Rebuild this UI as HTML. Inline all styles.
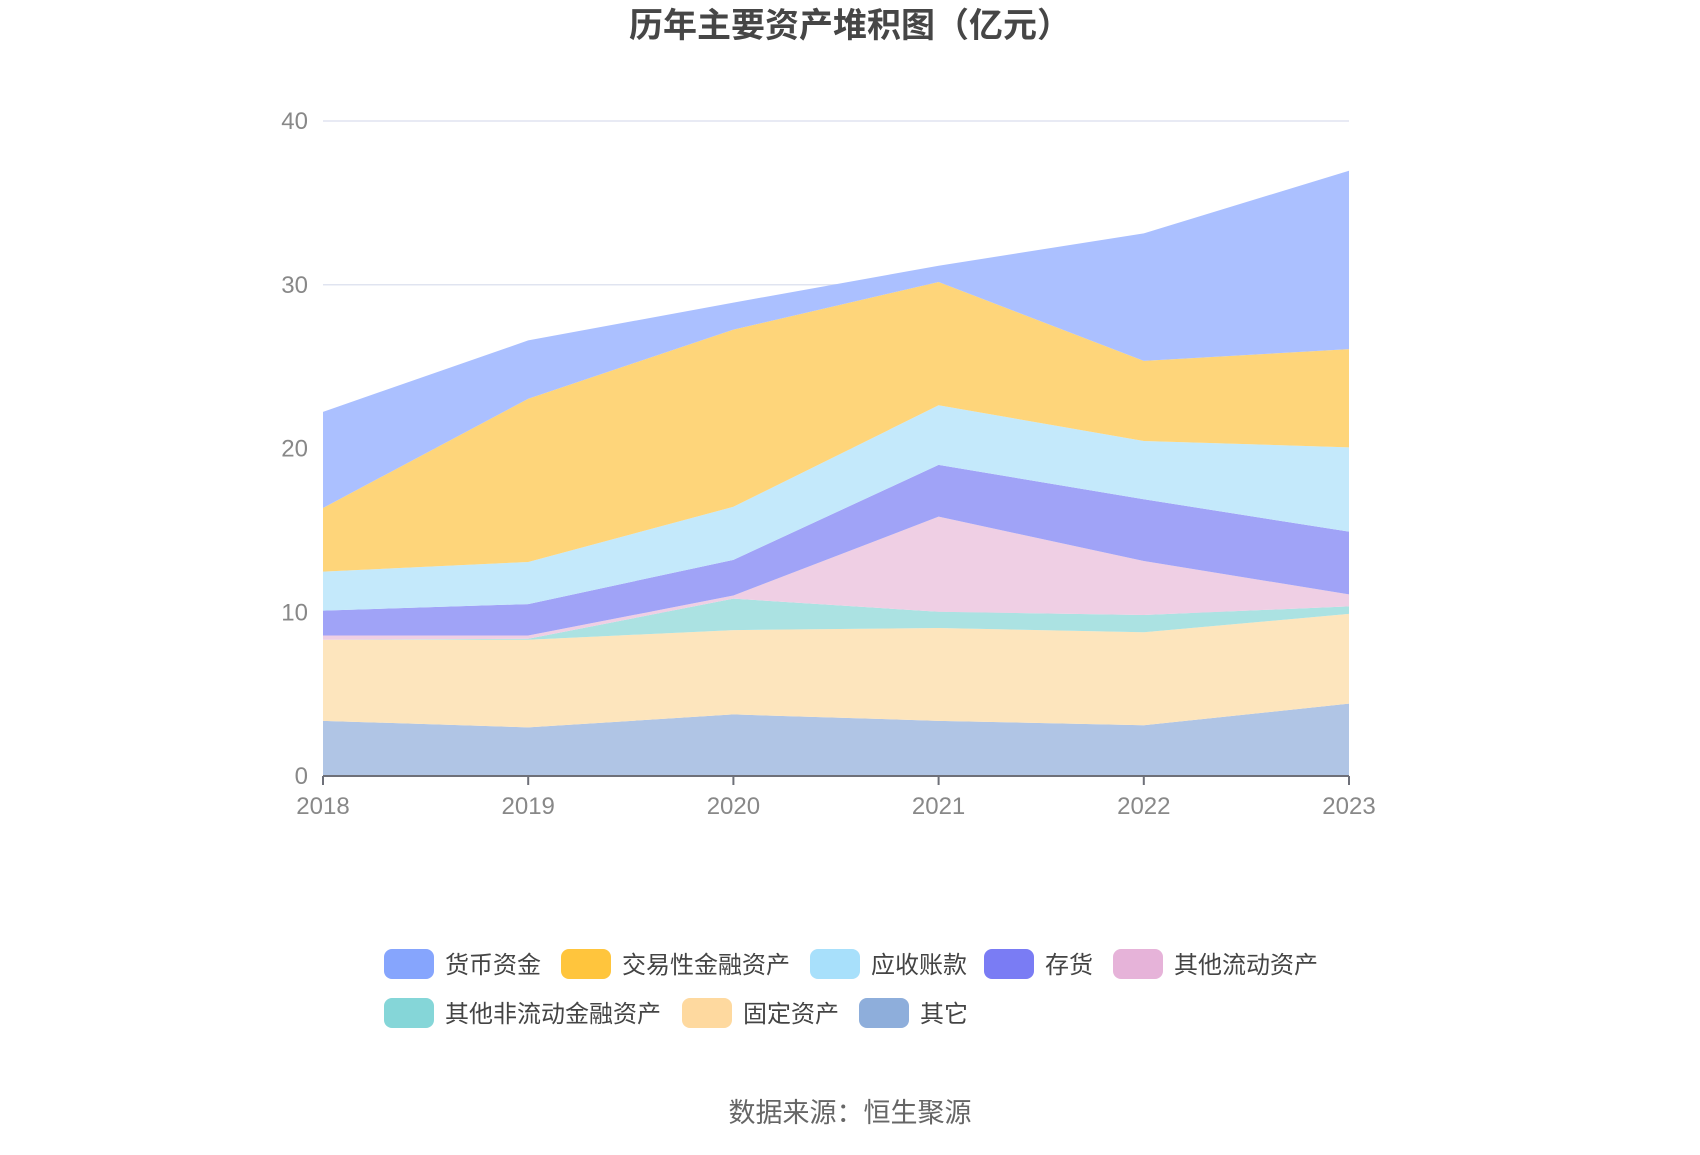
<!DOCTYPE html>
<html><head><meta charset="utf-8">
<style>
body{margin:0;background:#fff;width:1700px;height:1150px;overflow:hidden;font-family:"Liberation Sans","Noto Sans CJK SC",sans-serif;}
</style></head>
<body>
<svg id="chart" width="1700" height="1150" xmlns="http://www.w3.org/2000/svg" font-family="Liberation Sans, Noto Sans CJK SC, sans-serif">
<text x="850" y="37" text-anchor="middle" font-size="34" font-weight="bold" fill="#464646">历年主要资产堆积图（亿元）</text>
<g id="grid"></g>
<g id="areas"></g>
<g id="axes"></g>
<g id="legend"></g>
<text x="850" y="1122" text-anchor="middle" font-size="27" fill="#666">数据来源：恒生聚源</text>
</svg>
<script>
const years = ['2018','2019','2020','2021','2022','2023'];
const seriesNames = ['其它','固定资产','其他非流动金融资产','其他流动资产','存货','应收账款','交易性金融资产','货币资金'];
const sOther = [3.37, 2.97, 3.76, 3.37, 3.10, 4.42];
const sFixed = [4.95, 5.35, 5.15, 5.67, 5.68, 5.48];
const sNonCurFin = [0.00, 0.06, 1.92, 0.99, 1.05, 0.46];
const sOtherCur = [0.26, 0.20, 0.19, 5.81, 3.30, 0.73];
const sInventory = [1.52, 1.92, 2.18, 3.16, 3.77, 3.83];
const sReceivable = [2.38, 2.57, 3.24, 3.64, 3.56, 5.15];
const sTrading = [3.89, 9.97, 10.82, 7.53, 4.89, 6.00];
const sCash = [5.87, 3.56, 1.65, 0.99, 7.79, 10.89];
const yTicks = [0, 10, 20, 30, 40];

const fills = ['#b0c5e5','#fde5bd','#abe2e2','#efcfe4','#a0a3f7','#c4e9fb','#fed57a','#abc0ff'];
const legendColors = {'货币资金':'#86a5fd','交易性金融资产':'#ffc53d','应收账款':'#a8e0fb','存货':'#7a7cf4','其他流动资产':'#e6b3d9','其他非流动金融资产':'#85d6d8','固定资产':'#fed99f','其它':'#8eaedb'};
const allSeries = [sOther,sFixed,sNonCurFin,sOtherCur,sInventory,sReceivable,sTrading,sCash];
const NS='http://www.w3.org/2000/svg';
const X0=323, X1=1349, Y0=776, Y40=121;
const xs = i => X0 + (X1-X0)*i/(years.length-1);
const ys = v => Y0 - (Y0-Y40)*v/40;
function mk(tag, attrs, parent){const e=document.createElementNS(NS,tag);for(const k in attrs)e.setAttribute(k,attrs[k]);parent.appendChild(e);return e;}
const grid=document.getElementById('grid');
yTicks.forEach(t=>{
  if(t>0){const l=mk('line',{x1:X0,x2:X1,y1:ys(t),y2:ys(t),stroke:'#e0e4f0','stroke-width':1.5},grid);
  
  }
  const tx=mk('text',{x:308,y:ys(t)+8,'text-anchor':'end','font-size':24,fill:'#888'},grid);
  tx.textContent=t;
  
  
});
const areas=document.getElementById('areas');
let base=years.map(()=>0);
allSeries.forEach((s,k)=>{
  const top=base.map((b,i)=>b+s[i]);
  let d='M'+years.map((_,i)=>xs(i)+','+ys(top[i])).join(' L');
  for(let i=years.length-1;i>=0;i--) d+=' L'+xs(i)+','+ys(base[i]);
  d+=' Z';
  const p=mk('path',{d:d,fill:fills[k]},areas);
  
  
  base=top;
});
const axes=document.getElementById('axes');
const ax=mk('line',{x1:X0,x2:X1,y1:Y0,y2:Y0,stroke:'#6e7079','stroke-width':2},axes);


years.forEach((y,i)=>{
  mk('line',{x1:xs(i),x2:xs(i),y1:Y0,y2:Y0+9,stroke:'#6e7079','stroke-width':2},axes);
  const t=mk('text',{x:xs(i),y:814,'text-anchor':'middle','font-size':24,fill:'#888'},axes);
  t.textContent=y;
  
  
});
const legend=document.getElementById('legend');
const legendItems=[['货币资金',384,964],['交易性金融资产',561,964],['应收账款',810,964],['存货',984,964],['其他流动资产',1113,964],['其他非流动金融资产',384,1013],['固定资产',682,1013],['其它',859,1013]];
legendItems.forEach(([n,x,y])=>{
  const g=mk('g',{},legend);
  
  
  mk('rect',{x:x,y:y-15,width:50,height:30,rx:8,fill:legendColors[n]},g);
  const t=mk('text',{x:x+61,y:y+9,'font-size':24,fill:'#444'},g);
  t.textContent=n;
});
</script>
</body></html>
